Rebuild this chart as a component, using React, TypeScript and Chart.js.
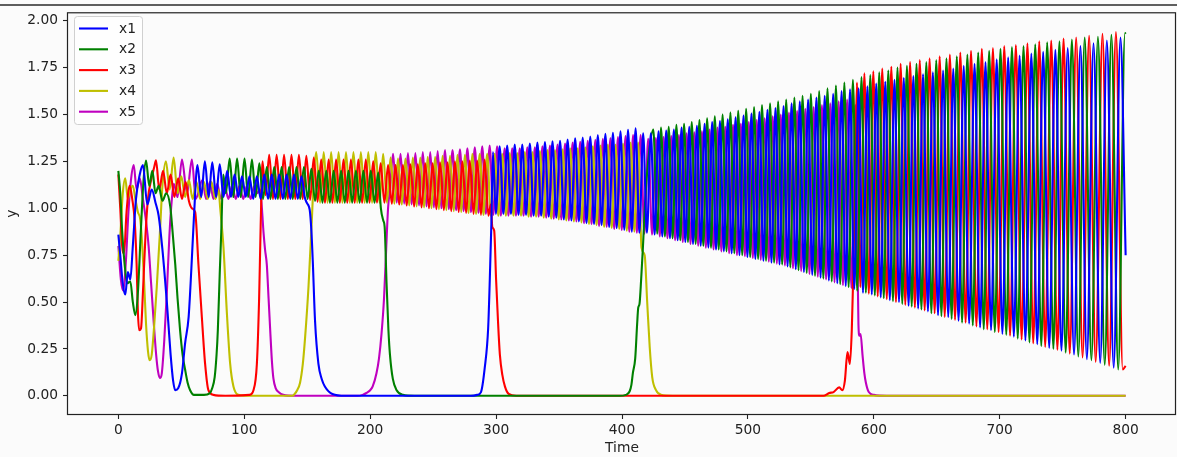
import { useEffect, useRef } from 'react';
import { Chart, registerables } from 'chart.js';

Chart.register(...registerables);

const seriesLabels = ['x1', 'x2', 'x3', 'x4', 'x5'];
const seriesColors = ['#0000ff', '#008000', '#ff0000', '#bfbf00', '#bf00bf'];
const xTickValues = [0, 100, 200, 300, 400, 500, 600, 700, 800];
const yTickValues = [0, 0.25, 0.5, 0.75, 1.0, 1.25, 1.5, 1.75, 2.0];
const xAxisTitle = 'Time';
const yAxisTitle = 'y';

// [time, value] knots (peaks, troughs and transitions)
const x1Data: number[][] = [[0,0.86],[1.5,0.75],[3.5,0.6],[5.5,0.54],[7.5,0.66],[9.5,0.62],[11.5,0.8],[14,1.05],[17,1.18],[19.5,1.23],[23,1.02],[26.5,1.1],[29.5,1.03],[32,0.96],[35,0.78],[38.5,0.5],[41.5,0.22],[43.5,0.08],[45.2,0.03],[47.5,0.04],[50.5,0.12],[53,0.28],[55.8,0.42],[58,0.68],[60,0.95],
[62.8,1.23],[65.8,1.06],[68.7,1.25],[71.7,1.06],[74.6,1.245],[77.6,1.06],[80.5,1.235],[83.5,1.06],[86.4,1.2],[89.4,1.06],[92.3,1.18],[95.3,1.06],[98.2,1.17],[101.2,1.06],[104.1,1.17],[107.1,1.05],[110,1.17],[113,1.05],[115.9,1.18],[118.9,1.05],[121.8,1.18],[124.8,1.05],[127.7,1.18],[130.7,1.05],[133.6,1.18],[136.6,1.05],[139.5,1.18],[142.5,1.05],[145.4,1.17],[148,1.06],[149.6,1.03],[152,0.99],[153.3,0.88],[154.4,0.72],[156.2,0.4],[158.9,0.17],[161.5,0.09],[164,0.05],[170,0.01],[180,0],[280,0],[285,0.005],[288,0.02],[291,0.15],[293.7,0.36],[295,0.62],[296.3,0.93],[297.5,1.3],[299.8,0.97],
[302.8,1.33],[305.8,0.97],[308.8,1.335],[311.8,0.97],[314.8,1.34],[317.8,0.965],[320.8,1.34],[323.8,0.965],[326.8,1.345],[329.8,0.96],[332.8,1.35],[335.8,0.96],[338.8,1.353],[341.8,0.955],[344.8,1.357],[347.8,0.95],[350.8,1.36],[353.8,0.94],[356.8,1.367],[359.8,0.935],[362.8,1.373],[365.8,0.93],[368.8,1.377],[371.8,0.92],[374.8,1.383],[377.8,0.915],[380.8,1.39],[383.8,0.91],[386.8,1.397],[389.8,0.9],[392.8,1.403],[395.8,0.895],[398.8,1.41],[401.8,0.885],[404.8,1.418],[407.8,0.875],[410.8,1.427],[413.8,0.87],
[416.8,1.4],[419.8,0.87],[422.9,1.4],[425.9,0.86],[429,1.41],[432,0.85],[435.1,1.415],[438.1,0.84],[441.2,1.42],[444.2,0.83],[447.3,1.43],[450.3,0.82],[453.4,1.435],[456.4,0.81],[459.5,1.44],[462.5,0.8],[465.6,1.45],[468.6,0.79],[471.6,1.46],[474.7,0.78],[477.8,1.465],[480.9,0.77],[484,1.475],[487.1,0.76],[490.2,1.485],[493.3,0.75],[496.5,1.495],[499.6,0.74],[502.8,1.505],[505.9,0.73],[509.1,1.515],[512.3,0.72],[515.5,1.525],[518.7,0.71],[521.9,1.535],[525.1,0.7],[528.3,1.545],[531.5,0.69],[534.7,1.56],[538,0.675],[541.2,1.57],[544.5,0.66],[547.8,1.58],[551.1,0.645],[554.4,1.59],[557.7,0.63],[561,1.6],[564.3,0.615],[567.7,1.61],[571,0.6],[574.4,1.625],[577.7,0.585],[581.1,1.635],[584.5,0.57],
[587.9,1.64],[591.4,0.55],[594.9,1.65],[598.4,0.54],[601.9,1.665],[605.5,0.525],[609.1,1.675],[612.7,0.51],[616.4,1.685],[620,0.5],[623.8,1.695],[627.6,0.48],[631.4,1.705],[635.2,0.465],[639.1,1.715],[643,0.45],[646.9,1.725],[651,0.43],[655,1.735],[659.1,0.42],[663.1,1.745],[667.3,0.4],[671.4,1.76],[675.7,0.385],[680,1.77],[684.4,0.365],[688.7,1.78],[693.1,0.35],[697.6,1.795],[702.1,0.33],[706.7,1.805],[711.2,0.315],[715.8,1.815],[720.4,0.295],[725.1,1.825],[729.8,0.275],[734.5,1.835],[739.3,0.255],[744.2,1.845],[749,0.24],[754,1.855],[759,0.22],[764.1,1.865],[769.2,0.195],[774.5,1.88],[779.8,0.175],[785.1,1.895],[790.5,0.15],[795.9,1.91],[800,0.75]];

const x2Data: number[][] = [[0,1.2],[1.5,1.08],[3,0.88],[5,0.7],[7,0.6],[9.5,0.61],[11.5,0.5],[13.5,0.43],[15.5,0.55],[18,0.9],[20,1.15],[22,1.255],[24.5,1.12],[27,1.2],[29.5,1.08],[32,1.12],[35,1.04],[38,1.08],[41.2,1.01],[43,0.88],[45.2,0.7],[47,0.52],[49,0.35],[51,0.22],[53,0.14],[55,0.07],[57,0.03],[60,0.005],[68,0.005],[72.5,0.013],[74.5,0.04],[76.5,0.1],[78,0.22],[79,0.35],[80.5,0.65],[81.7,0.87],[83.3,1.18],[85.4,1.08],
[88.4,1.265],[91.3,1.06],[94.3,1.265],[97.2,1.06],[100.2,1.265],[103.1,1.06],[106.1,1.26],[109,1.06],[112,1.24],[114.9,1.05],[117.9,1.22],[120.8,1.05],[123.8,1.22],[126.7,1.05],[129.7,1.22],[132.6,1.05],[135.6,1.22],[138.5,1.05],[141.5,1.22],[144.4,1.05],[147.4,1.22],[150.3,1.05],[153.3,1.21],[156.2,1.04],[159.2,1.2],[162.1,1.03],[165.1,1.2],[168,1.03],[171,1.2],[173.9,1.03],[176.9,1.2],[179.8,1.03],[182.8,1.2],[185.7,1.03],[188.7,1.2],[191.6,1.03],[194.6,1.2],[197.5,1.03],[200.5,1.2],[203.4,1.03],[206.4,1.19],[208.5,1.0],[210.4,0.935],[211.5,0.9],[213,0.6],[214.5,0.35],[215.7,0.22],[218,0.09],[221,0.03],[226,0.005],[235,0],[398,0],[403,0.005],[406,0.023],[407.5,0.06],[408.6,0.12],[410.5,0.2],[412,0.38],[412.9,0.47],[413.9,0.49],[415.2,0.62],[416.6,0.79],[418.5,1.05],[421.5,1.3],
[424.9,1.42],[428,0.865],[431,1.43],[434.1,0.85],[437.1,1.435],[440.2,0.84],[443.2,1.445],[446.3,0.83],[449.3,1.45],[452.4,0.82],[455.4,1.46],[458.5,0.81],[461.5,1.47],[464.6,0.8],[467.6,1.48],[470.7,0.79],[473.7,1.49],[476.8,0.78],[479.9,1.5],[483,0.77],[486.1,1.51],[489.2,0.76],[492.3,1.52],[495.5,0.75],[498.6,1.53],[501.8,0.74],[504.9,1.54],[508.1,0.73],[511.2,1.55],[514.4,0.72],[517.6,1.56],[520.8,0.71],[524,1.57],[527.2,0.7],[530.4,1.58],[533.7,0.685],[536.9,1.59],[540.2,0.67],[543.4,1.6],[546.7,0.655],[550,1.61],[553.3,0.64],[556.6,1.625],[559.9,0.625],[563.2,1.64],[566.6,0.61],[569.9,1.655],[573.3,0.595],[576.6,1.67],[580,0.58],[583.4,1.685],[586.8,0.56],[590.2,1.7],[593.7,0.55],[597.2,1.71],[600.8,0.535],[604.3,1.725],[607.9,0.52],[611.5,1.735],[615.2,0.505],[618.8,1.75],[622.6,0.49],[626.3,1.76],[630.1,0.475],[633.9,1.77],[637.8,0.46],[641.7,1.78],[645.7,0.44],[649.6,1.79],[653.7,0.425],[657.7,1.8],[661.8,0.41],[665.9,1.81],[670.1,0.39],[674.3,1.82],[678.6,0.375],[682.9,1.83],[687.3,0.355],[691.6,1.84],[696.1,0.34],[700.6,1.85],[705.2,0.325],[709.7,1.86],[714.3,0.305],[718.9,1.865],[723.6,0.285],[728.2,1.875],[733,0.265],[737.7,1.885],[742.6,0.25],[747.4,1.89],[752.4,0.23],[757.3,1.9],[762.4,0.21],[767.5,1.91],[772.8,0.19],[778,1.915],[783.4,0.165],[788.7,1.925],[794.1,0.14],[799.5,1.935],[800,1.93]];

const x3Data: number[][] = [[0,1.18],[1.5,1.0],[3,0.8],[4.5,0.76],[6.5,0.98],[9,1.12],[11,1.05],[13,0.93],[14.5,0.7],[15.5,0.45],[16.5,0.35],[18,0.36],[19.5,0.55],[21.5,0.85],[23.5,1.05],[26,1.15],[28.5,1.22],[29.9,1.256],[32.5,1.1],[35.5,1.2],[38.5,1.08],[41.5,1.18],[44.5,1.06],[47.5,1.16],[50.5,1.05],[53.5,1.14],[56,1.04],[58.4,1.0],[61,0.98],[63.6,0.7],[66.3,0.42],[68.9,0.17],[71.5,0.03],[75.5,0.005],[85,0],[104,0.005],[107.3,0.03],[110,0.17],[111.8,0.52],[113,0.9],[114.5,1.25],[116.9,1.07],
[119.8,1.285],[122.8,1.05],[125.7,1.285],[128.7,1.05],[131.6,1.285],[134.6,1.05],[137.5,1.285],[140.5,1.05],[143.4,1.285],[146.4,1.05],[149.3,1.28],[152.3,1.045],[155.2,1.27],[158.2,1.035],[161.1,1.26],[164.1,1.03],[167,1.26],[170,1.03],[172.9,1.26],[175.9,1.03],[178.8,1.26],[181.8,1.03],[184.7,1.26],[187.7,1.03],[190.6,1.26],[193.6,1.03],[196.5,1.26],[199.5,1.03],[202.4,1.25],[205.4,1.03],[208.3,1.24],[211.3,1.03],[214.2,1.23],[217.2,1.025],[220.1,1.23],[223.1,1.02],[226,1.23],[229,1.015],[231.9,1.235],[234.9,1.01],[237.8,1.235],[240.8,1.005],[243.7,1.24],[246.7,1.0],[249.6,1.24],[252.6,0.995],[255.5,1.245],[258.5,0.99],[261.4,1.245],[264.4,0.985],[267.3,1.25],[270.3,0.98],[273.2,1.25],[276.2,0.975],[279.1,1.255],[282.1,0.97],[285,1.255],[288,0.965],[290.9,1.26],[293.9,0.96],[295.8,1.02],[297,0.9],[298.5,0.88],[300,0.62],[301.5,0.4],[303,0.22],[305,0.11],[307,0.05],[310,0.01],[316,0],[560,0],[564.6,0.015],[568,0.02],[572.5,0.045],[575,0.03],[577,0.08],[579.1,0.233],[581,0.17],[582.5,0.35],[583.7,0.65],[585.2,1.2],[586.6,1.67],[589.3,0.58],
[592.5,1.72],[596,0.545],[599.6,1.73],[603.1,0.53],[606.7,1.745],[610.3,0.515],[613.9,1.755],[617.6,0.5],[621.3,1.77],[625,0.485],[628.8,1.78],[632.6,0.47],[636.5,1.79],[640.4,0.455],[644.3,1.8],[648.3,0.44],[652.3,1.81],[656.3,0.42],[660.4,1.82],[664.5,0.405],[668.7,1.83],[672.9,0.39],[677.2,1.84],[681.5,0.37],[685.8,1.85],[690.1,0.355],[694.6,1.855],[699.1,0.34],[703.6,1.865],[708.2,0.32],[712.8,1.87],[717.4,0.3],[722,1.88],[726.6,0.28],[731.4,1.89],[736.1,0.26],[740.9,1.895],[745.8,0.245],[750.7,1.905],[755.6,0.225],[760.7,1.91],[765.8,0.205],[771,1.92],[776.2,0.18],[781.6,1.93],[786.9,0.16],[792.3,1.94],[797.7,0.14],[800,0.16]];

const x4Data: number[][] = [[0,0.72],[1.5,0.85],[3.5,1.08],[5.5,1.16],[7.5,1.05],[9.5,1.1],[11.5,1.12],[13.5,1.05],[15.5,0.98],[17.4,0.94],[19,0.8],[20.5,0.6],[22,0.38],[23.5,0.24],[24.8,0.19],[26.5,0.22],[28.5,0.38],[30.5,0.58],[33,0.87],[35,1.12],[37.8,1.25],[40.7,1.1],[43.9,1.27],[47,1.08],[50,1.17],[53,1.06],[56,1.15],[59,1.05],[62,1.14],[65,1.05],[68,1.14],[71,1.05],[74,1.14],[77,1.05],[79.5,1.1],[80.9,1.0],[83.5,0.79],[86.2,0.44],[88.8,0.17],[91.4,0.05],[95.4,0.005],[105,0],[138,0],[140,0.01],[142,0.03],[144.3,0.07],[146.5,0.17],[148.3,0.31],[151,0.58],[153.6,0.93],[155.5,1.2],
[157.2,1.3],[160.2,1.03],[163.1,1.3],[166.1,1.03],[169,1.3],[172,1.03],[174.9,1.3],[177.9,1.03],[180.8,1.3],[183.8,1.03],[186.7,1.3],[189.7,1.03],[192.6,1.3],[195.6,1.03],[198.5,1.3],[201.5,1.03],[204.4,1.3],[207.4,1.03],[210.3,1.29],[213.3,1.03],[216.2,1.27],[219.2,1.025],[222.1,1.265],[225.1,1.02],[228,1.265],[231,1.015],[233.9,1.27],[236.9,1.01],[239.8,1.27],[242.8,1.005],[245.7,1.275],[248.7,1.0],[251.6,1.275],[254.6,0.995],[257.5,1.28],[260.5,0.99],[263.4,1.28],[266.4,0.985],[269.3,1.285],[272.3,0.98],[275.2,1.285],[278.2,0.975],[281.1,1.29],[284.1,0.97],[287,1.29],[290,0.965],[292.9,1.29],[295.9,0.96],[298.8,1.29],[301.8,0.96],[304.8,1.29],[307.8,0.96],[310.8,1.295],[313.8,0.96],[316.8,1.295],[319.8,0.96],[322.8,1.3],[325.8,0.955],[328.8,1.3],[331.8,0.955],[334.8,1.305],[337.8,0.95],[340.8,1.31],[343.8,0.945],[346.8,1.31],[349.8,0.94],[352.8,1.315],[355.8,0.935],[358.8,1.32],[361.8,0.93],[364.8,1.32],[367.8,0.925],[370.8,1.325],[373.8,0.915],[376.8,1.33],[379.8,0.91],[382.8,1.335],[385.8,0.9],[388.8,1.34],[391.8,0.895],[394.8,1.34],[397.8,0.89],[400.8,1.345],[403.8,0.88],[406.8,1.35],[409.8,0.875],[412.8,1.35],[415.5,0.79],[418,0.75],[420,0.5],[422,0.26],[424,0.1],[427,0.03],[431,0.005],[440,0],[800,0]];

const x5Data: number[][] = [[0,0.8],[2,0.62],[4,0.56],[6,0.72],[8,0.98],[10,1.15],[12.2,1.23],[14.5,1.1],[17,1.16],[19.5,1.05],[22,0.93],[24,0.8],[26,0.6],[28,0.4],[30,0.22],[31.5,0.13],[33,0.095],[34.5,0.12],[36.5,0.3],[38.5,0.55],[40.5,0.85],[42.5,1.05],[44,1.13],[47,1.06],[50.5,1.26],[54.5,1.08],[58.4,1.26],[61.5,1.05],[66.7,1.15],[69.7,1.05],[72.6,1.14],[75.6,1.05],[78.5,1.13],[81.5,1.05],[84.4,1.12],[87.4,1.05],[90.3,1.12],[93.3,1.05],[96.2,1.12],[99.2,1.05],[102.1,1.12],[105.1,1.05],[108,1.12],[110.5,1.08],[112.6,1.1],[114,1.0],[115.3,0.87],[116.5,0.78],[117.9,0.7],[119.3,0.52],[120.6,0.35],[122,0.18],[123.2,0.09],[125,0.04],[127.2,0.02],[131,0.005],[140,0],[190,0],[194,0.005],[197,0.015],[200,0.03],[202,0.05],[205,0.12],[207,0.2],[209,0.33],[211,0.52],[212.5,0.75],[214.2,1.0],[215.7,1.1],
[218.2,1.29],[221.1,1.03],[224.1,1.29],[227,1.025],[230,1.295],[232.9,1.02],[235.9,1.295],[238.8,1.015],[241.8,1.3],[244.7,1.01],[247.7,1.3],[250.6,1.005],[253.6,1.305],[256.5,1.0],[259.5,1.31],[262.4,0.995],[265.4,1.31],[268.3,0.99],[271.3,1.315],[274.2,0.985],[277.2,1.32],[280.1,0.98],[283.1,1.325],[286,0.975],[289,1.33],[291.9,0.97],[294.9,1.335],[297.8,0.965],[300.8,1.33],[303.8,0.96],[306.8,1.32],[309.8,0.96],[312.8,1.32],[315.8,0.96],[318.8,1.32],[321.8,0.96],[324.8,1.325],[327.8,0.955],[330.8,1.325],[333.8,0.955],[336.8,1.33],[339.8,0.95],[342.8,1.335],[345.8,0.945],[348.8,1.34],[351.8,0.94],[354.8,1.345],[357.8,0.935],[360.8,1.35],[363.8,0.93],[366.8,1.355],[369.8,0.92],[372.8,1.36],[375.8,0.915],[378.8,1.365],[381.8,0.905],[384.8,1.37],[387.8,0.9],[390.8,1.375],[393.8,0.89],[396.8,1.38],[399.8,0.885],[402.8,1.385],[405.8,0.875],[408.8,1.39],[411.8,0.87],[414.8,1.39],[417.8,0.865],
[420.8,1.37],[423.9,0.86],[426.9,1.375],[430,0.85],[433,1.38],[436.1,0.84],[439.1,1.385],[442.2,0.83],[445.2,1.39],[448.3,0.82],[451.3,1.4],[454.4,0.81],[457.4,1.405],[460.5,0.8],[463.5,1.41],[466.6,0.79],[469.6,1.42],[472.7,0.78],[475.8,1.43],[478.9,0.77],[482,1.435],[485.1,0.76],[488.2,1.445],[491.3,0.75],[494.4,1.45],[497.6,0.745],[500.7,1.46],[503.9,0.735],[507,1.47],[510.2,0.725],[513.3,1.48],[516.6,0.715],[519.7,1.49],[523,0.705],[526.1,1.5],[529.4,0.695],[532.6,1.51],[535.8,0.68],[539.1,1.52],[542.3,0.665],[545.6,1.53],[548.9,0.65],[552.2,1.54],[555.5,0.635],[558.8,1.55],[562.1,0.62],[565.4,1.56],[568.8,0.605],[572.1,1.57],[575.5,0.59],[578.8,1.58],[582.2,0.575],[585.4,1.55],[587,0.75],[587.8,0.38],[588.6,0.32],[589.5,0.33],[591,0.22],[592.5,0.12],[593.7,0.07],[596,0.02],[600,0.005],[610,0],[800,0]];

const seriesData = [x1Data, x2Data, x3Data, x4Data, x5Data];

const FONT = "'DejaVu Sans', 'Liberation Sans', sans-serif";
const FS = 13.8;
const INK = '#222222';
const BG = '#fbfbfb';
const LINE_W = 2.1;

const framePlugin = {
  id: 'framePlugin',
  beforeDraw(chart: any) {
    const { ctx, width, height } = chart;
    ctx.save();
    ctx.fillStyle = BG;
    ctx.fillRect(0, 0, width, height);
    ctx.strokeStyle = '#2a2a2a';
    ctx.lineWidth = 1.6;
    ctx.beginPath();
    ctx.moveTo(0, 5);
    ctx.lineTo(width, 5);
    ctx.stroke();
    ctx.restore();
  },
  afterDatasetsDraw(chart: any) {
    const { ctx, chartArea } = chart;
    ctx.save();
    ctx.strokeStyle = INK;
    ctx.lineWidth = 1.2;
    ctx.strokeRect(chartArea.left - 0.5, chartArea.top - 0.5, chartArea.right - chartArea.left, chartArea.bottom - chartArea.top + 1);
    // legend
    const bx = 74.5, by = 16.5, bw = 68, bh = 108, r = 3;
    ctx.beginPath();
    ctx.moveTo(bx + r, by);
    ctx.lineTo(bx + bw - r, by);
    ctx.quadraticCurveTo(bx + bw, by, bx + bw, by + r);
    ctx.lineTo(bx + bw, by + bh - r);
    ctx.quadraticCurveTo(bx + bw, by + bh, bx + bw - r, by + bh);
    ctx.lineTo(bx + r, by + bh);
    ctx.quadraticCurveTo(bx, by + bh, bx, by + bh - r);
    ctx.lineTo(bx, by + r);
    ctx.quadraticCurveTo(bx, by, bx + r, by);
    ctx.closePath();
    ctx.fillStyle = 'rgba(255,255,255,0.8)';
    ctx.fill();
    ctx.strokeStyle = '#d0d0d0';
    ctx.lineWidth = 1;
    ctx.stroke();
    ctx.font = `${FS}px ${FONT}`;
    ctx.textBaseline = 'middle';
    ctx.textAlign = 'left';
    chart.data.datasets.forEach((ds: any, i: number) => {
      const y = 28.5 + i * 20.8;
      ctx.strokeStyle = ds.borderColor;
      ctx.lineWidth = LINE_W;
      ctx.beginPath();
      ctx.moveTo(79, y);
      ctx.lineTo(108, y);
      ctx.stroke();
      ctx.fillStyle = INK;
      ctx.fillText(ds.label, 119, y + 0.5);
    });
    ctx.restore();
  },
};

export default function App() {
  const ref = useRef<HTMLCanvasElement>(null);
  useEffect(() => {
    if (!ref.current) return;
    const chart = new Chart(ref.current, {
      type: 'line',
      data: {
        datasets: seriesLabels.map((label, i) => ({
          label,
          data: seriesData[i].map(([x, y]) => ({ x, y })),
          borderColor: seriesColors[i],
          backgroundColor: seriesColors[i],
          borderWidth: LINE_W,
          pointRadius: 0,
          pointHoverRadius: 0,
          fill: false,
          cubicInterpolationMode: 'monotone' as const,
        })),
      },
      options: {
        responsive: false,
        animation: false,
        devicePixelRatio: 1,
        events: [],
        layout: { padding: { top: 9, right: 1, left: 0, bottom: 0 } },
        plugins: { legend: { display: false }, tooltip: { enabled: false } },
        scales: {
          x: {
            type: 'linear',
            min: -40,
            max: 840,
            afterBuildTicks: (scale: any) => {
              scale.ticks = xTickValues.map((v) => ({ value: v }));
            },
            afterFit: (scale: any) => {
              scale.height = 43;
            },
            ticks: {
              color: INK,
              font: { family: FONT, size: FS },
              padding: 3,
              maxRotation: 0,
              autoSkip: false,
              callback: (v: any) => String(v),
            },
            grid: {
              display: true,
              drawOnChartArea: false,
              drawTicks: true,
              tickLength: 5,
              tickColor: INK,
              tickWidth: 1.1,
              color: INK,
            },
            border: { display: false },
            title: {
              display: true,
              text: xAxisTitle,
              color: INK,
              font: { family: FONT, size: FS },
              padding: { top: 0, bottom: 0 },
            },
          },
          y: {
            type: 'linear',
            min: -0.097,
            max: 2.04,
            afterBuildTicks: (scale: any) => {
              scale.ticks = yTickValues.map((v) => ({ value: v }));
            },
            afterFit: (scale: any) => {
              scale.width = 68;
            },
            ticks: {
              color: INK,
              font: { family: FONT, size: FS },
              padding: 5,
              autoSkip: false,
              callback: (v: any) => Number(v).toFixed(2),
            },
            grid: {
              display: true,
              drawOnChartArea: false,
              drawTicks: true,
              tickLength: 5,
              tickColor: INK,
              tickWidth: 1.1,
              color: INK,
            },
            border: { display: false },
            title: {
              display: true,
              text: yAxisTitle,
              color: INK,
              font: { family: FONT, size: FS },
              padding: { top: 4, bottom: 0 },
            },
          },
        },
      },
      plugins: [framePlugin],
    } as any);
    return () => chart.destroy();
  }, []);
  return (
    <div style={{ position: 'absolute', left: 0, top: 0, width: 1177, height: 457, background: BG }}>
      <canvas ref={ref} width={1177} height={457} style={{ display: 'block', width: 1177, height: 457 }} />
    </div>
  );
}
